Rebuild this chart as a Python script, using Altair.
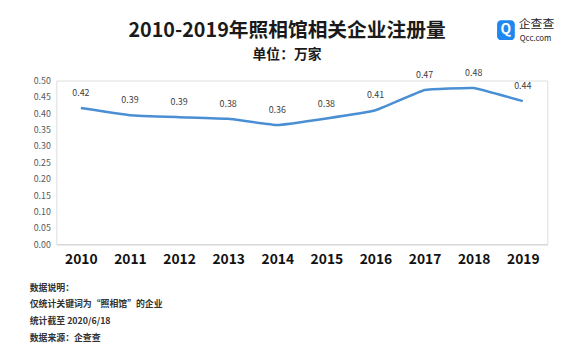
import altair as alt
import pandas as pd

years = ["2010", "2011", "2012", "2013", "2014", "2015", "2016", "2017", "2018", "2019"]
values = [0.416, 0.394, 0.388, 0.383, 0.364, 0.384, 0.409, 0.471, 0.477, 0.437]
y_ticks = [0.0, 0.05, 0.1, 0.15, 0.2, 0.25, 0.3, 0.35, 0.4, 0.45, 0.5]

title_text = "2010-2019年照相馆相关企业注册量"
subtitle_text = "单位：万家"
notes = ["数据说明：", "仅统计关键词为“照相馆”的企业", "统计截至 2020/6/18", "数据来源：企查查"]

FONT = "Noto Sans CJK SC"
W, H = 498, 166

df = pd.DataFrame({"year": years, "value": values})

x_enc = alt.X("year:N", sort=years, title=None,
              scale=alt.Scale(paddingInner=0, paddingOuter=0),
              axis=alt.Axis(labelAngle=0, labelFontSize=14, labelFontWeight="bold",
                            labelColor="#111111", labelFont=FONT, ticks=False,
                            domainColor="#d9d9d9", domainWidth=1.5, labelPadding=9))
y_enc = alt.Y("value:Q", title=None,
              scale=alt.Scale(domain=[0, 0.5], nice=False),
              axis=alt.Axis(values=y_ticks, format=".2f", labelFontSize=9,
                            labelColor="#595959", labelFont=FONT, ticks=False,
                            labelOverlap=False, labelBound=False, labelFlush=False,
                            domain=False, grid=False, labelPadding=6))

base = alt.Chart(df)
line = base.mark_line(color="#4a8fd4", strokeWidth=2.5, interpolate="cardinal", tension=0.75).encode(x=x_enc, y=y_enc)
labels = base.mark_text(dy=-15, fontSize=9, color="#404040", font=FONT).encode(
    x=x_enc, y=y_enc, text=alt.Text("value:Q", format=".2f"))

one = pd.DataFrame({"k": [0]})
title = alt.Chart(one).mark_text(text=title_text, fontSize=20, fontWeight="bold", font=FONT,
                                 color="#1a1a1a", baseline="middle").encode(
    x=alt.value(234), y=alt.value(-50))
subtitle = alt.Chart(one).mark_text(text=subtitle_text, fontSize=14, fontWeight="bold", font=FONT,
                                    color="#1a1a1a", baseline="middle").encode(
    x=alt.value(234), y=alt.value(-26))

logo_box = alt.Chart(one).mark_rect(color="#1e88f0", cornerRadius=4).encode(
    x=alt.value(447), x2=alt.value(465), y=alt.value(-61), y2=alt.value(-41))
logo_q = alt.Chart(one).mark_text(text="Q", fontSize=14, fontWeight="bold", font=FONT,
                                  color="white", baseline="middle").encode(
    x=alt.value(456), y=alt.value(-51))
logo_t1 = alt.Chart(one).mark_text(text="企查查", fontSize=12, font=FONT, color="#222222",
                                   align="left", baseline="middle").encode(
    x=alt.value(469), y=alt.value(-57))
logo_t2 = alt.Chart(one).mark_text(text="Qcc.com", fontSize=8, font=FONT, color="#222222",
                                   align="left", baseline="middle").encode(
    x=alt.value(470), y=alt.value(-42))

note_layers = []
for i, t in enumerate(notes):
    note_layers.append(alt.Chart(one).mark_text(text=t, fontSize=9, fontWeight="bold", font=FONT,
                                                color="#333333", align="left", baseline="middle").encode(
        x=alt.value(-27), y=alt.value(44 + i * 17 + H)))

chart = alt.layer(line, labels, title, subtitle, logo_box, logo_q, logo_t1, logo_t2, *note_layers).properties(
    width=W, height=H,
    autosize=alt.AutoSizeParams(type="none"),
    padding={"left": 49, "top": 71, "right": 25, "bottom": 121},
).configure_view(stroke=None).configure(background="white")

chart.save("out.html", embed_options={"renderer": "svg", "actions": False})
